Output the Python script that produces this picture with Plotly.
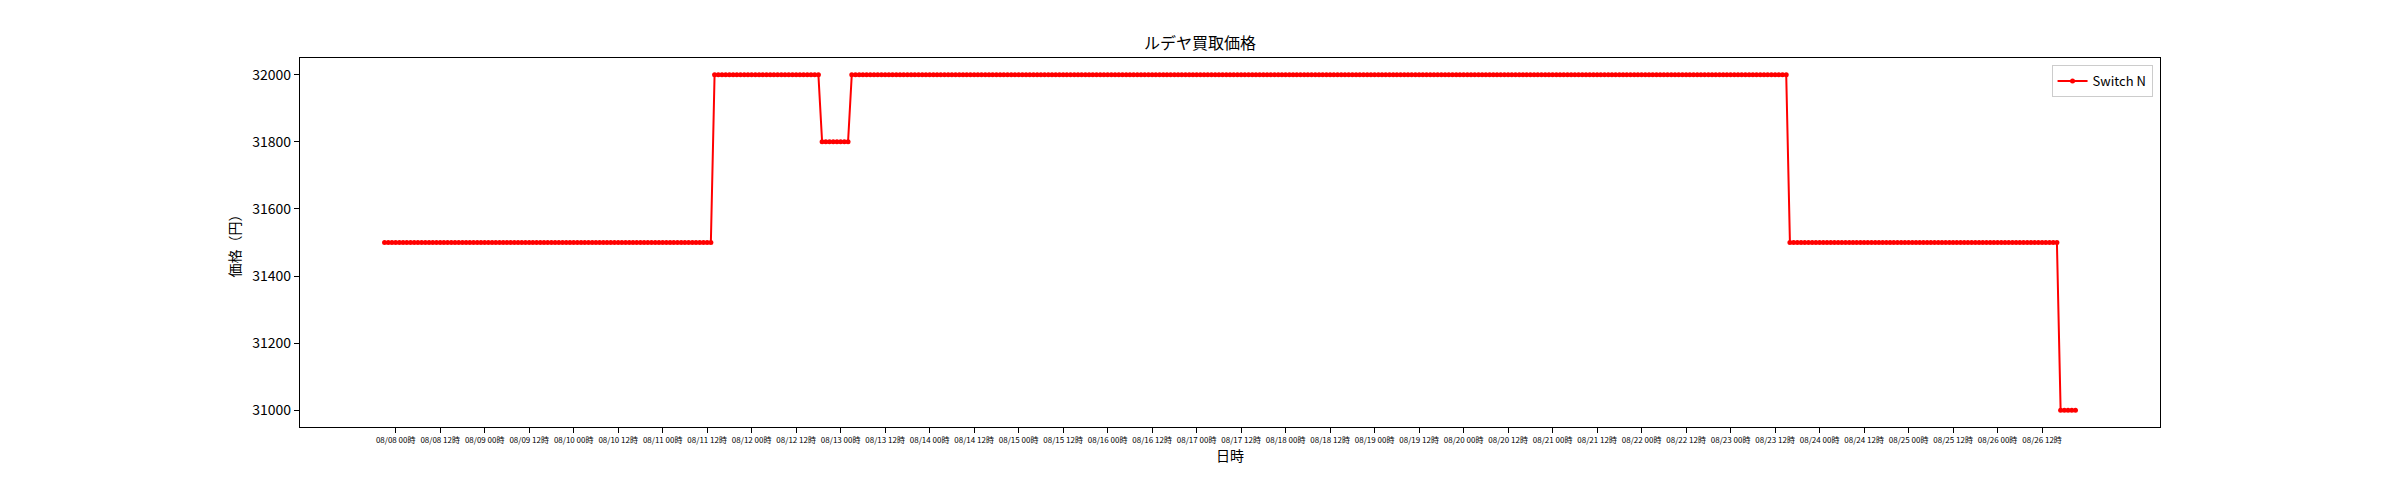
import datetime as dt
import plotly.graph_objects as go

# Step data (hourly samples): value and number of consecutive hourly points
start_time = "2024-08-07 21:00"
segment_values = [31500, 32000, 31800, 32000, 31500, 31000]
segment_counts = [89, 29, 8, 253, 73, 5]

tick_times = [f"2024-08-{d:02d} {h:02d}:00" for d in range(8, 27) for h in (0, 12)]
tick_labels = [f"08/{d:02d} {h:02d}時" for d in range(8, 27) for h in (0, 12)]

y_ticks = [31000, 31200, 31400, 31600, 31800, 32000]

t0 = dt.datetime.strptime(start_time, "%Y-%m-%d %H:%M")
xs, ys = [], []
i = 0
for v, c in zip(segment_values, segment_counts):
    for _ in range(c):
        xs.append(t0 + dt.timedelta(hours=i))
        ys.append(v)
        i += 1

span = xs[-1] - xs[0]
xr = [xs[0] - span * 0.05, xs[-1] + span * 0.05]
ymin, ymax = min(ys), max(ys)
yr = [ymin - (ymax - ymin) * 0.05, ymax + (ymax - ymin) * 0.05]

FONT = "Noto Sans CJK JP, DejaVu Sans, sans-serif"

W, H = 2384, 464  # page body has an 8px margin

fig = go.Figure()
fig.add_trace(go.Scatter(
    x=xs, y=ys, mode="lines+markers", name="Switch N",
    line=dict(color="red", width=2),
    marker=dict(color="red", size=5, line=dict(width=0)),
))

fig.update_layout(
    width=W, height=H,
    paper_bgcolor="white", plot_bgcolor="white",
    margin=dict(l=292, r=W - 2152, t=50, b=H - 419),
    font=dict(family=FONT, color="black", size=13),
    title=dict(text="ルデヤ買取価格", x=0.5, xanchor="center", y=1 - 35 / H, yanchor="middle",
               font=dict(size=16, family=FONT)),
    showlegend=True,
    legend=dict(x=0.996, xanchor="right", y=0.981, yanchor="top",
                bgcolor="rgba(255,255,255,0.8)", bordercolor="#cccccc", borderwidth=1,
                font=dict(size=13, family=FONT)),
    xaxis=dict(
        type="date", range=xr, tickvals=tick_times, ticktext=tick_labels,
        tickfont=dict(size=8, family=FONT), ticks="outside", ticklen=5, tickcolor="black",
        showline=True, linecolor="black", linewidth=1.2, mirror=True, showgrid=False, zeroline=False,
        title=dict(text="日時", font=dict(size=14, family=FONT), standoff=6),
    ),
    yaxis=dict(
        range=yr, tickvals=y_ticks, ticktext=[str(v) for v in y_ticks],
        tickfont=dict(size=14, family=FONT), ticks="outside", ticklen=5, tickcolor="black",
        showline=True, linecolor="black", linewidth=1.2, mirror=True, showgrid=False, zeroline=False,
        title=dict(text="価格（円）", font=dict(size=14, family=FONT), standoff=8),
    ),
)

fig.write_html("out.html")
